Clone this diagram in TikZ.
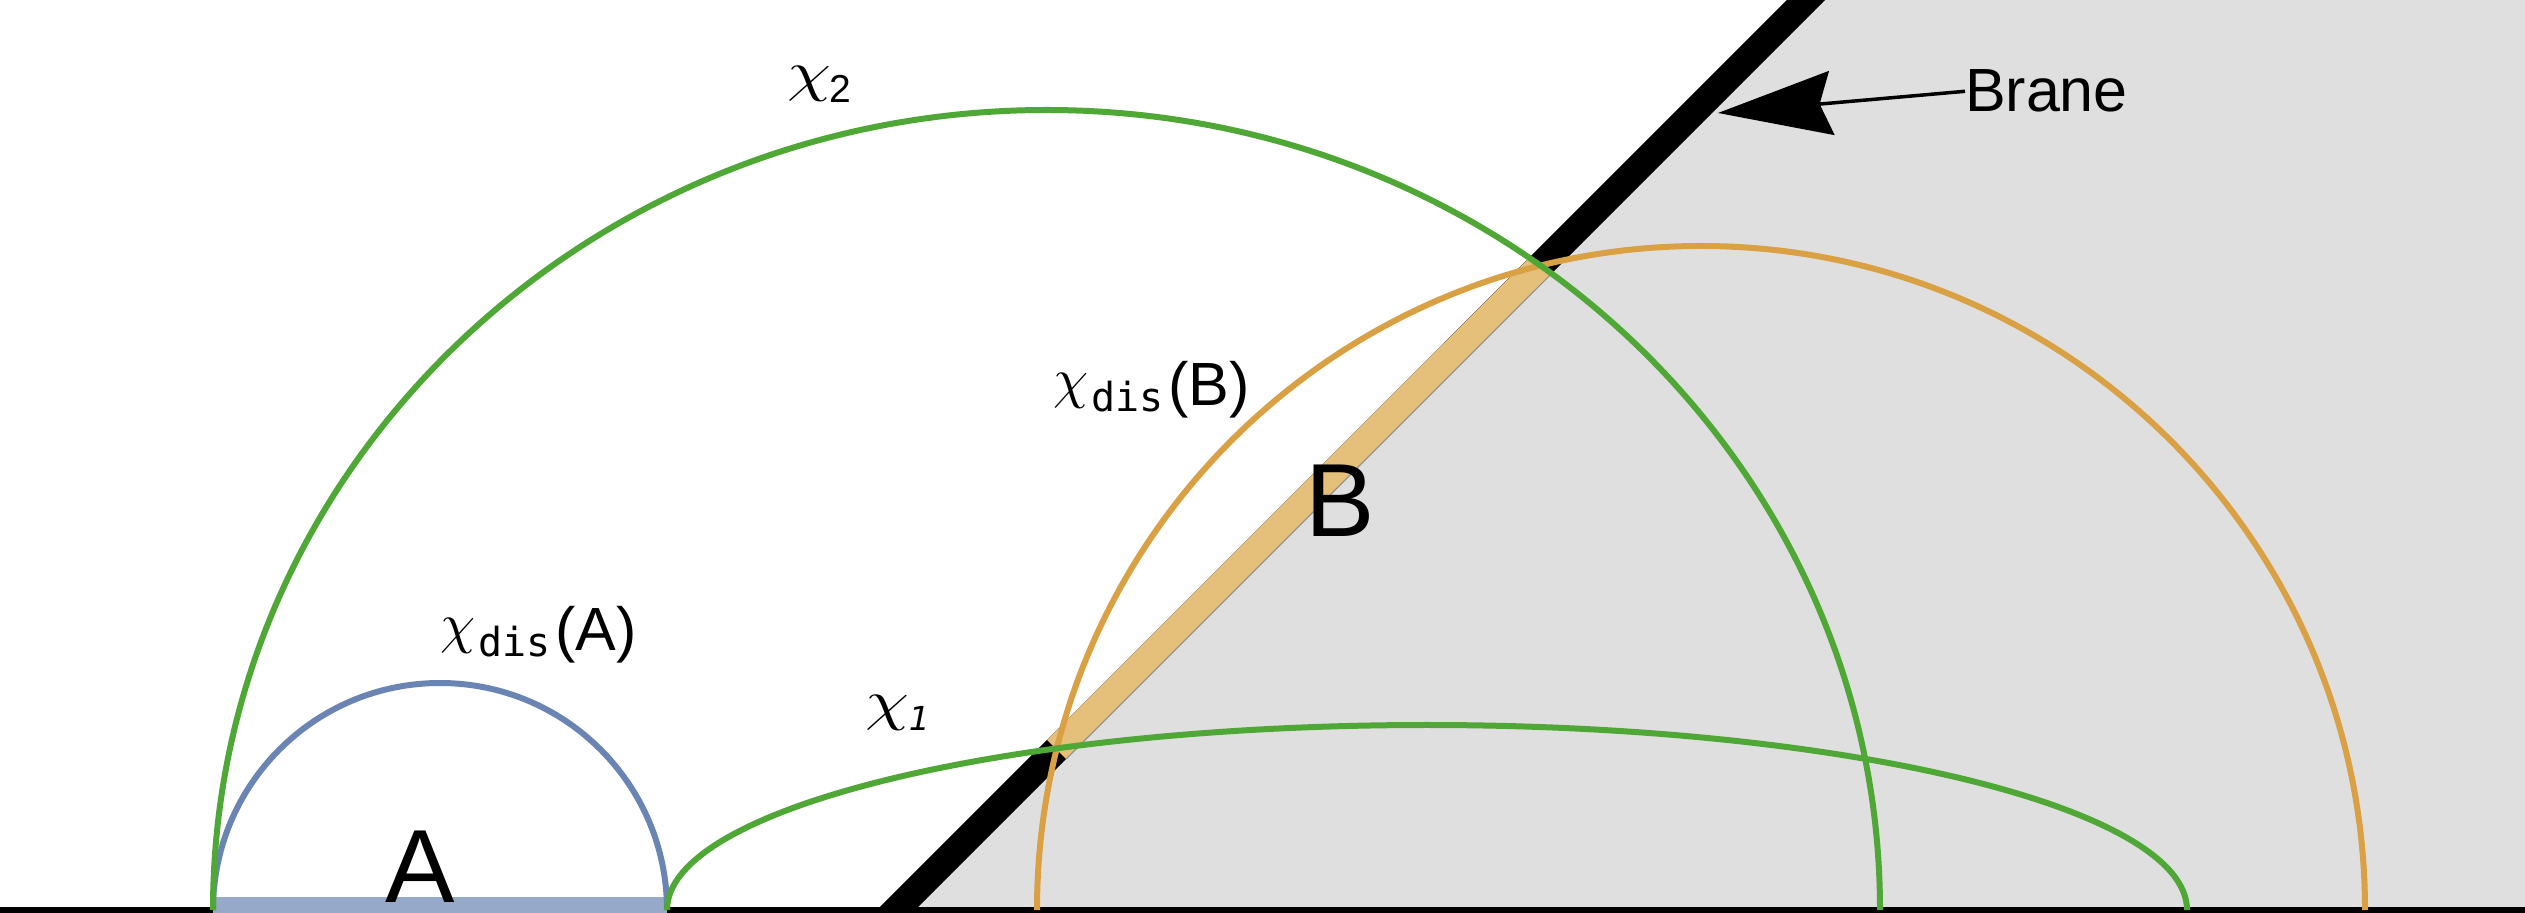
\documentclass[tikz,border=0pt]{standalone}
\usepackage{fontspec}
\setmainfont{Liberation Sans}
\newfontfamily\monof{DejaVu Sans Mono}
\newfontfamily\djv{DejaVu Sans}
\usepackage{graphicx}
\usetikzlibrary{arrows.meta}
\definecolor{geogreen}{HTML}{4FA736}
\definecolor{arcorange}{HTML}{D9A044}
\definecolor{bandorange}{HTML}{E4C07A}
\definecolor{arcblue}{HTML}{6A84B4}
\definecolor{bandblue}{HTML}{97A9C8}
\definecolor{regiongray}{HTML}{DFDFDF}
\newcommand{\bigchi}{\scalebox{5.6}{\normalsize$\chi$}}
\newcommand{\widechi}{\scalebox{7}[5.6]{\normalsize$\chi$}}
\newcommand{\chidis}[1]{\raisebox{8pt}{\bigchi}\kern3pt{\monof\fontsize{40}{40}\selectfont\raisebox{-6pt}{dis}}\kern5pt{\fontsize{61}{61}\selectfont(#1)}}
\tikzset{
  geoline/.style={line width=6pt},
  lbl/.style={inner sep=0pt, outer sep=0pt, anchor=base west},
  bigletter/.style={inner sep=0pt, anchor=base, font=\fontsize{104}{104}\selectfont}
}
\begin{document}
\begin{tikzpicture}[x=1pt,y=1pt]
\useasboundingbox (0,0) rectangle (2525,913);
\fill[white] (0,0) rectangle (2525,913);
\begin{scope}
  \clip (0,0) rectangle (2525,913);
  \fill[regiongray] (893,0) -- (1806,913) -- (2525,913) -- (2525,0) -- cycle;
  \draw[line width=27pt] (883,-10) -- (1816,923);
  \draw[bandorange, line width=27pt] (1056.6,163.6) -- (1540.4,647.3);
  \draw[black!45, line width=1pt] (1066.2,154.1) -- (1550,637.8);
\end{scope}
% baseline and region A
\fill[black] (0,0) rectangle (2525,6);
\fill[bandblue] (213,0) rectangle (667,16);
% geodesics
\draw[geoline, arcorange] (1037,3) arc[start angle=180, end angle=0, radius=664pt];
\draw[geoline, arcblue] (213,3) arc[start angle=180, end angle=0, radius=227pt];
\draw[geoline, geogreen] (667,3) arc[start angle=180, end angle=0, x radius=760pt, y radius=185pt];
\draw[geoline, geogreen] (213,3) arc[start angle=180, end angle=0, x radius=833.5pt, y radius=800pt];
% labels
\node[bigletter] (labA) at (420,10) {A};
\node[bigletter] (labB) at (1340,376) {B};
\node[lbl] (chiA) at (440,262) {\chidis{A}};
\node[lbl] (chiB) at (1053,507) {\chidis{B}};
\node[lbl] (chitwo) at (787,810) {\raisebox{12pt}{\widechi}\kern-1pt{\fontsize{39}{39}\selectfont 2}};
\node[lbl] (chione) at (865,182) {\raisebox{11pt}{\widechi}\kern0pt{\djv\itshape\fontsize{33}{33}\selectfont 1}};
\node[lbl, font=\fontsize{61}{61}\selectfont] (brane) at (1965,801) {Brane};
\coordinate (tip) at (1718,800);
\draw[line width=3.5pt, -{Stealth[length=114pt, width=64pt, inset=12pt]}] (brane.west) -- (tip);
\end{tikzpicture}
\end{document}
